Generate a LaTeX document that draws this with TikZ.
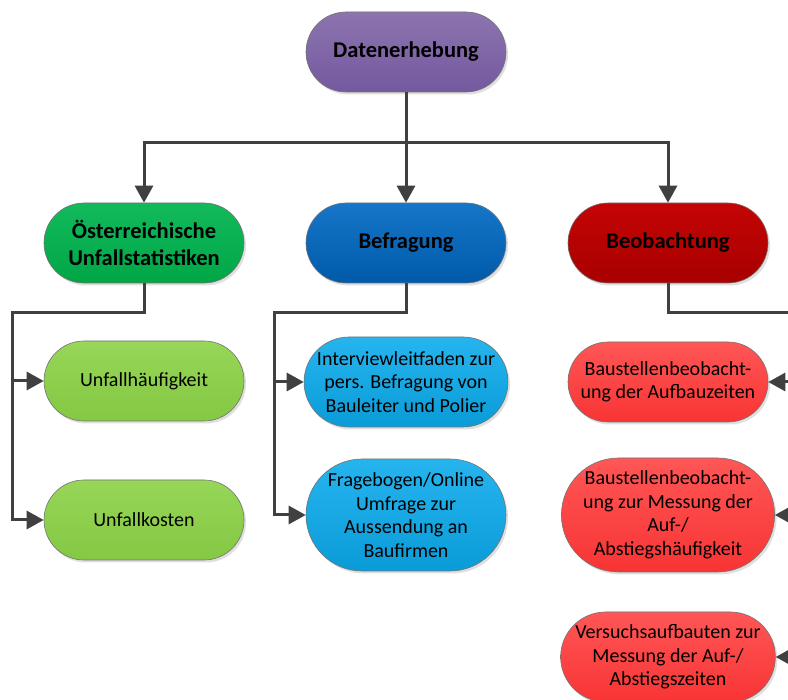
\documentclass[tikz,border=0pt]{standalone}
\usepackage{fontspec}
\setmainfont{Carlito}
\usetikzlibrary{shapes.misc,arrows.meta,shadows}
\definecolor{purT}{HTML}{8C74AE}\definecolor{purB}{HTML}{7459A0}
\definecolor{grT}{HTML}{12BA5C}\definecolor{grB}{HTML}{00A646}
\definecolor{blT}{HTML}{1676C8}\definecolor{blB}{HTML}{005AAA}
\definecolor{rdT}{HTML}{C40404}\definecolor{rdB}{HTML}{A80000}
\definecolor{lgT}{HTML}{97D658}\definecolor{lgB}{HTML}{84C843}
\definecolor{lbT}{HTML}{26B4EE}\definecolor{lbB}{HTML}{0A9CD8}
\definecolor{lrT}{HTML}{FF5656}\definecolor{lrB}{HTML}{F83434}
\definecolor{lineC}{HTML}{404040}
\tikzset{
  pill/.style={rounded rectangle, draw=black!55, line width=0.6pt,
    minimum width=202pt, minimum height=80pt, align=center, inner sep=1pt,
    drop shadow={shadow xshift=2pt, shadow yshift=-2.5pt, opacity=0.25}},
  head/.style={pill, font=\fontsize{22.5}{27.5}\selectfont\bfseries},
  leaf/.style={pill, font=\fontsize{20}{23.5}\selectfont},
  conn/.style={draw=lineC, line width=3pt},
  arr/.style={conn, -{Triangle[length=17pt,width=18pt]}},
  shade2/.style 2 args={top color=#1, bottom color=#2}
}
\begin{document}
\begin{tikzpicture}[x=1pt,y=-1pt]
\path[use as bounding box, clip] (0,0) rectangle (788,700);
\fill[white] (0,0) rectangle (788,700);
% level 1
\node[head, shade2={purT}{purB}] (top) at (406,52) {Datenerhebung};
% level 2
\node[head, shade2={grT}{grB}] (oest) at (144,243) {Österreichische\\Unfallstatistiken};
\node[head, shade2={blT}{blB}] (befr) at (406,243) {Befragung};
\node[head, shade2={rdT}{rdB}] (beob) at (668,243) {Beobachtung};
% level 3 green
\node[leaf, shade2={lgT}{lgB}] (haeuf) at (144,381) {Unfallhäufigkeit};
\node[leaf, shade2={lgT}{lgB}] (kost) at (144,520) {Unfallkosten};
% level 3 blue
\node[leaf, shade2={lbT}{lbB}, minimum height=90pt] (interv) at (406,382) {Interviewleitfaden zur\\pers. Befragung von\\Bauleiter und Polier};
\node[leaf, shade2={lbT}{lbB}, minimum height=112pt] (frage) at (406,515) {Fragebogen/Online\\Umfrage zur\\Aussendung an\\Baufirmen};
% level 3 red
\node[leaf, shade2={lrT}{lrB}] (rA) at (668,382) {Baustellenbeobacht-\\ung der Aufbauzeiten};
\node[leaf, shade2={lrT}{lrB}, minimum height=114pt] (rB) at (668,515) {Baustellenbeobacht-\\ung zur Messung der\\Auf-/\\Abstiegshäufigkeit};
\node[leaf, shade2={lrT}{lrB}, minimum height=90pt] (rC) at (668,657) {Versuchsaufbauten zur\\Messung der Auf-/\\Abstiegszeiten};
% connectors level 1 -> 2
\coordinate (bus) at (406,143);
\draw[conn] (top.south) -- (bus);
\draw[arr] (bus) -| (oest.north);
\draw[arr] (bus) -- (befr.north);
\draw[arr] (bus) -| (beob.north);
% green branch
\coordinate (lg) at (12,313);
\draw[arr] (oest.south) |- (lg) |- (kost.west);
\draw[arr] (lg |- haeuf.west) -- (haeuf.west);
% blue branch
\coordinate (lb) at (274,313);
\draw[arr] (befr.south) |- (lb) |- (frage.west);
\draw[arr] (lb |- interv.west) -- (interv.west);
% red branch
\coordinate (lr) at (800,313);
\draw[conn] (beob.south) |- (lr) -- (lr |- rC.east);
\draw[arr] (lr |- rA.east) -- (rA.east);
\draw[arr] (lr |- rB.east) -- (rB.east);
\draw[arr] (lr |- rC.east) -- (rC.east);
\end{tikzpicture}
\end{document}
